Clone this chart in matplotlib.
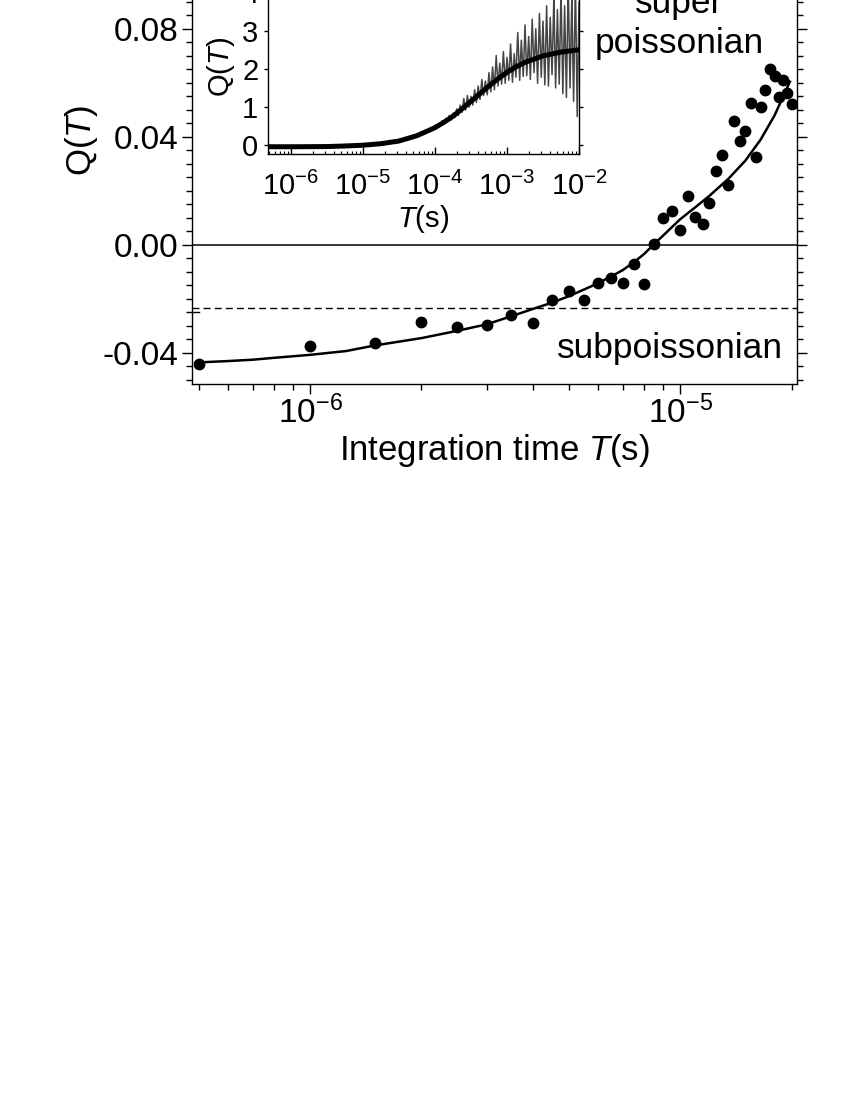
import numpy as np
import matplotlib
matplotlib.use('Agg')
import matplotlib.pyplot as plt
from matplotlib.ticker import MultipleLocator, LogLocator, NullFormatter

plt.rcParams['font.family'] = ['Liberation Sans', 'DejaVu Sans']
plt.rcParams['mathtext.fontset'] = 'custom'
plt.rcParams['mathtext.rm'] = 'Liberation Sans'
plt.rcParams['mathtext.it'] = 'Liberation Sans:italic'
plt.rcParams['mathtext.default'] = 'rm'
plt.rcParams['axes.unicode_minus'] = False

# measured Q(T) points, main panel
T_meas = [5.0e-7, 1.0e-6, 1.5e-6, 2.0e-6, 2.5e-6, 3.0e-6, 3.5e-6, 4.0e-6, 4.5e-6, 5.0e-6,
          5.5e-6, 6.0e-6, 6.5e-6, 7.0e-6, 7.5e-6, 8.0e-6, 8.5e-6, 9.0e-6, 9.5e-6, 1.0e-5,
          1.05e-5, 1.1e-5, 1.15e-5, 1.2e-5, 1.25e-5, 1.3e-5, 1.35e-5, 1.4e-5, 1.45e-5, 1.5e-5,
          1.55e-5, 1.6e-5, 1.65e-5, 1.7e-5, 1.75e-5, 1.8e-5, 1.85e-5, 1.9e-5, 1.95e-5, 2.0e-5]
Q_meas = [-0.0441, -0.0375, -0.0362, -0.0284, -0.0305, -0.0298, -0.0259, -0.0288, -0.0204, -0.0170,
          -0.0204, -0.0140, -0.0122, -0.0142, -0.0070, -0.0146, 0.0002, 0.0099, 0.0127, 0.0057,
          0.0181, 0.0105, 0.0077, 0.0154, 0.0274, 0.0335, 0.0223, 0.0459, 0.0385, 0.0422,
          0.0525, 0.0327, 0.0510, 0.0574, 0.0651, 0.0627, 0.0548, 0.0611, 0.0562, 0.0521]

# model curve, main panel
T_fit = [5.0e-7, 6.0e-7, 7.0e-7, 8.0e-7, 1.0e-6, 1.25e-6, 1.5e-6, 2.0e-6, 2.5e-6, 3.0e-6,
         3.5e-6, 4.0e-6, 4.5e-6, 5.0e-6, 5.5e-6, 6.0e-6, 6.5e-6, 7.0e-6, 7.5e-6, 8.0e-6,
         8.5e-6, 9.0e-6, 1.0e-5, 1.1e-5, 1.2e-5, 1.35e-5, 1.5e-5, 1.65e-5, 1.8e-5, 1.95e-5, 1.98e-5]
Q_fit = [-0.0435, -0.0430, -0.0425, -0.0418, -0.0407, -0.0393, -0.0372, -0.0345, -0.0318, -0.0294,
         -0.0264, -0.0237, -0.0214, -0.0190, -0.0165, -0.0142, -0.0117, -0.0093, -0.0064, -0.0033,
         0.0003, 0.0035, 0.0095, 0.0140, 0.0182, 0.0245, 0.0312, 0.0390, 0.0480, 0.0585, 0.0605]

# inset: long-time model curve
T_in_fit = [4.8e-7, 1.0e-6, 3.16e-6, 5.62e-6, 1.0e-5, 1.78e-5, 3.16e-5, 5.62e-5, 1.0e-4, 1.33e-4,
            1.78e-4, 2.37e-4, 3.16e-4, 4.22e-4, 5.62e-4, 7.5e-4, 1.0e-3, 1.33e-3, 1.78e-3, 3.16e-3,
            5.62e-3, 1.0e-2]
Q_in_fit = [-0.04, -0.04, -0.035, -0.02, 0.0, 0.04, 0.11, 0.25, 0.46, 0.60,
            0.76, 0.95, 1.15, 1.35, 1.55, 1.74, 1.91, 2.05, 2.17, 2.34,
            2.44, 2.50]

# inset: noisy measured trace
T_in_data = [5.01e-5, 5.31e-5, 5.62e-5, 5.96e-5, 6.31e-5, 6.68e-5, 7.08e-5, 7.50e-5, 7.94e-5, 8.41e-5,
             8.91e-5, 9.44e-5, 1.00e-4, 1.06e-4, 1.12e-4, 1.19e-4, 1.26e-4, 1.33e-4, 1.41e-4, 1.50e-4,
             1.58e-4, 1.68e-4, 1.78e-4, 1.88e-4, 2.00e-4, 2.11e-4, 2.24e-4, 2.37e-4, 2.51e-4, 2.66e-4,
             2.82e-4, 2.99e-4, 3.16e-4, 3.35e-4, 3.55e-4, 3.76e-4, 3.98e-4, 4.22e-4, 4.47e-4, 4.73e-4,
             5.01e-4, 5.31e-4, 5.62e-4, 5.96e-4, 6.31e-4, 6.68e-4, 7.08e-4, 7.50e-4, 7.94e-4, 8.41e-4,
             8.91e-4, 9.44e-4, 1.00e-3, 1.06e-3, 1.12e-3, 1.19e-3, 1.26e-3, 1.33e-3, 1.41e-3, 1.50e-3,
             1.58e-3, 1.68e-3, 1.78e-3, 1.88e-3, 2.00e-3, 2.11e-3, 2.24e-3, 2.37e-3, 2.51e-3, 2.66e-3,
             2.82e-3, 2.99e-3, 3.16e-3, 3.35e-3, 3.55e-3, 3.76e-3, 3.98e-3, 4.22e-3, 4.47e-3, 4.73e-3,
             5.01e-3, 5.31e-3, 5.62e-3, 5.96e-3, 6.31e-3, 6.68e-3, 7.08e-3, 7.50e-3, 7.94e-3, 8.41e-3,
             8.91e-3, 9.44e-3, 1.00e-2]
Q_in_data = [0.25, 0.23, 0.29, 0.26, 0.33, 0.29, 0.36, 0.32, 0.41, 0.36,
             0.46, 0.40, 0.52, 0.45, 0.56, 0.52, 0.64, 0.55, 0.70, 0.62,
             0.78, 0.66, 0.84, 0.72, 0.95, 0.78, 1.05, 0.86, 1.22, 0.92,
             1.30, 1.00, 1.28, 1.05, 1.45, 1.12, 1.55, 1.20, 1.72, 1.30,
             1.68, 1.32, 1.90, 1.40, 2.05, 1.45, 2.35, 1.55, 2.15, 1.60,
             2.45, 1.62, 2.30, 1.70, 2.65, 1.65, 2.40, 1.78, 2.95, 1.70,
             2.75, 1.80, 3.15, 1.82, 2.85, 1.72, 3.30, 1.90, 3.05, 1.62,
             3.45, 1.78, 3.25, 1.58, 3.65, 1.55, 3.35, 1.85, 3.85, 1.50,
             3.55, 1.60, 4.05, 1.35, 3.65, 1.25, 4.25, 1.50, 3.85, 1.15,
             4.35, 0.75, 3.75]

Q_boundary = -0.0234   # dashed line

fig = plt.figure(figsize=(8.5, 11), dpi=100)
ax = fig.add_axes([0.2259, 0.6509, 0.7118, 0.4430])

ax.axhline(0.0, color='black', lw=1.1)
ax.axhline(Q_boundary, color='black', lw=1.0, ls=(0, (5, 3)))
ax.plot(T_fit, Q_fit, color='black', lw=1.8)
ax.plot(T_meas, Q_meas, 'o', color='black', ms=7.5)

ax.set_xscale('log')
ax.set_xlim(4.8e-7, 2.07e-5)
ax.set_ylim(-0.0515, 0.129)
ax.xaxis.set_minor_locator(LogLocator(base=10, subs=np.arange(2, 10), numticks=100))
ax.xaxis.set_minor_formatter(NullFormatter())
ax.set_yticks([-0.04, 0.0, 0.04, 0.08])
ax.set_yticklabels(['-0.04', '0.00', '0.04', '0.08'])
ax.yaxis.set_minor_locator(MultipleLocator(0.005))
ax.tick_params(which='both', direction='out', right=True, top=False, width=1.0)
ax.tick_params(which='major', length=7, labelsize=24, pad=3)
ax.tick_params(which='minor', length=4)
ax.tick_params(axis='x', which='major', pad=1)
ax.axhline(-0.025, xmin=0, xmax=0.012, color='black', lw=1.0)
for s in ax.spines.values():
    s.set_linewidth(1.0)

ax.set_xlabel('Integration time $\\mathit{T}$(s)', fontsize=25, labelpad=2)
ax.set_ylabel('Q($\\mathit{T}$)', fontsize=25)
ax.yaxis.set_label_coords(-0.152, 0.5)

ax.text(1.9e-5, -0.0419, 'subpoissonian', fontsize=25.5, ha='right', va='baseline')
ax.text(9.93e-6, 0.0859, 'super', fontsize=25.5, ha='center', va='baseline')
ax.text(9.93e-6, 0.0711, 'poissonian', fontsize=25.5, ha='center', va='baseline')

# inset
axin = fig.add_axes([0.3153, 0.86, 0.3659, 0.1583])
axin.plot(T_in_data, Q_in_data, color='#454545', lw=1.1)
axin.plot(T_in_fit, Q_in_fit, color='black', lw=3.6)
axin.set_xscale('log')
axin.set_xlim(4.8e-7, 1e-2)
axin.set_ylim(-0.23, 4.33)
axin.set_xticks([1e-6, 1e-5, 1e-4, 1e-3, 1e-2])
axin.xaxis.set_minor_locator(LogLocator(base=10, subs=np.arange(2, 10), numticks=100))
axin.xaxis.set_minor_formatter(NullFormatter())
axin.set_yticks([0, 1, 2, 3, 4])
axin.tick_params(axis='x', which='major', direction='in', length=5, width=1.0, labelsize=21, pad=13)
axin.tick_params(axis='x', which='minor', direction='in', length=2.5, width=0.8)
axin.tick_params(axis='y', which='major', direction='out', length=3, width=1.0, labelsize=21,
                 pad=4, right=True)
for s in axin.spines.values():
    s.set_linewidth(1.0)
axin.set_xlabel('$\\mathit{T}$(s)', fontsize=21, labelpad=1)
axin.set_ylabel('Q($\\mathit{T}$)', fontsize=21)
axin.yaxis.set_label_coords(-0.10, 0.5)

fig.savefig('out.png', dpi=100)
